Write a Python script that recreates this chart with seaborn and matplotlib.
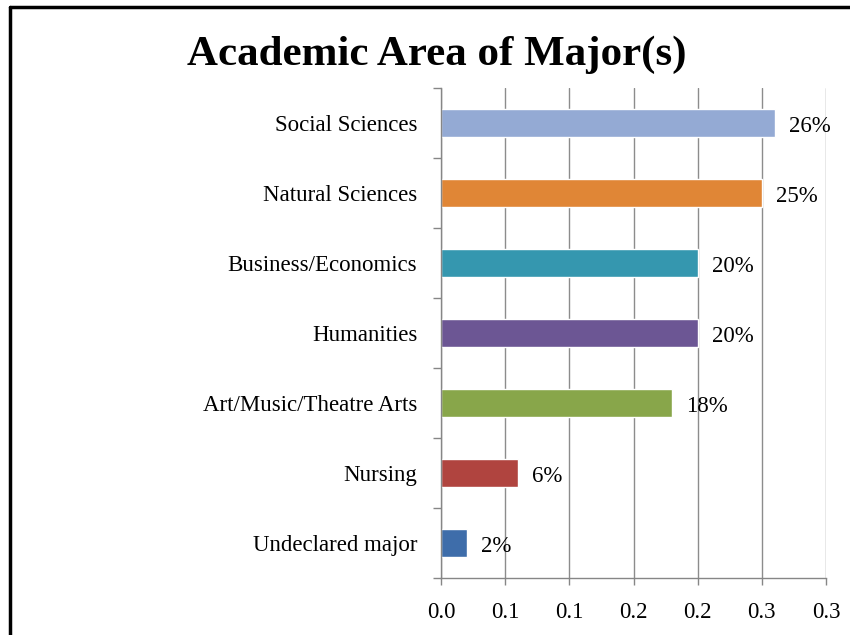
import matplotlib
matplotlib.use("Agg")
import matplotlib.pyplot as plt
from matplotlib.lines import Line2D
from matplotlib.ticker import FixedLocator
import seaborn as sns
import pandas as pd

categories = ["Social Sciences", "Natural Sciences", "Business/Economics", "Humanities",
              "Art/Music/Theatre Arts", "Nursing", "Undeclared major"]
values = [0.26, 0.25, 0.20, 0.20, 0.18, 0.06, 0.02]
value_labels = ["26%", "25%", "20%", "20%", "18%", "6%", "2%"]
colors = ["#94AAD4", "#E08636", "#3597AF", "#6C5694", "#88A64A", "#B0443F", "#3E6DAA"]
xtick_values = [0.0, 0.05, 0.10, 0.15, 0.20, 0.25, 0.30]
xtick_labels = ["0.0", "0.1", "0.1", "0.2", "0.2", "0.3", "0.3"]
title = "Academic Area of Major(s)"

sns.set_style("white")
plt.rcParams["font.family"] = ["Liberation Serif", "DejaVu Serif"]
plt.rcParams["text.color"] = "black"
plt.rcParams["xtick.labelcolor"] = "black"
plt.rcParams["ytick.labelcolor"] = "black"

df = pd.DataFrame({"category": categories, "value": values})

fig = plt.figure(figsize=(8.5, 6.35), dpi=100)
ax = fig.add_axes([441/850, 1-578/635, (826-441)/850, (578-88)/635])

sns.barplot(data=df, y="category", x="value", hue="category", palette=colors,
            orient="h", width=0.4, saturation=1, legend=False, ax=ax)

ax.set_xlim(0, 0.30)
ax.set_ylim(len(categories) - 0.5, -0.5)
ax.set_xticks(xtick_values)
ax.set_xticklabels(xtick_labels, fontsize=16.5, color="black")
ax.set_xlabel("")
ax.set_ylabel("")
ax.tick_params(axis="y", which="major", length=0, labelsize=16.5, pad=17, labelcolor="black")
ax.yaxis.set_minor_locator(FixedLocator([i - 0.5 for i in range(len(categories) + 1)]))
ax.tick_params(axis="y", which="minor", length=6, width=1, color="#868686", direction="out", left=True)
ax.tick_params(axis="x", which="major", length=5, width=1, color="#868686", direction="out",
               bottom=True, pad=12)
ax.grid(axis="x", color="#8C8C8C", linewidth=1)
ax.grid(axis="y", visible=False)
ax.set_axisbelow(True)
for s in ["top", "right"]:
    ax.spines[s].set_visible(False)
for s in ["left", "bottom"]:
    ax.spines[s].set_color("#868686")
    ax.spines[s].set_linewidth(1)

for i, (v, lab) in enumerate(zip(values, value_labels)):
    ax.annotate(lab, xy=(v, i), xytext=(14, -4), textcoords="offset pixels",
                ha="left", va="center", fontsize=16.5, color="black")

fig.text(437/850, 1-55/635, title, ha="center", va="center", fontsize=31,
         fontweight="bold", color="black")

fig.add_artist(Line2D([10/850, 10/850], [0, 1-7/635], color="black", linewidth=2.5,
                      transform=fig.transFigure))
fig.add_artist(Line2D([10/850, 1], [1-7/635, 1-7/635], color="black", linewidth=2.5,
                      transform=fig.transFigure))

fig.savefig("out.png", dpi=100)
